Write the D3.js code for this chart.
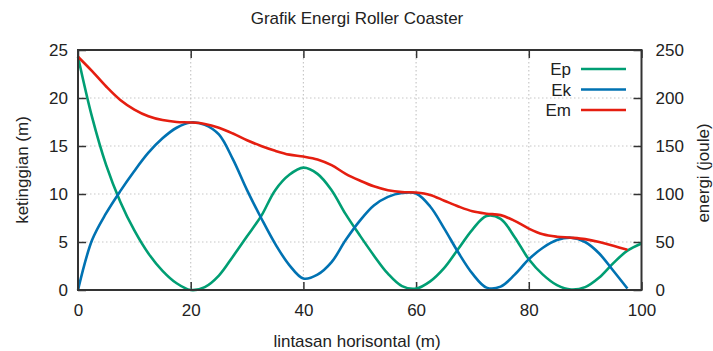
<!DOCTYPE html>
<html>
<head>
<meta charset="utf-8">
<script src="https://cdn.jsdelivr.net/npm/d3@7/dist/d3.min.js"></script>
<style>
    body { margin: 0; background: #fff; }
    svg text { font-family: "Liberation Sans", Arial, sans-serif; fill: #222; }
</style>
</head>
<body>
<svg id="chart" width="713" height="351"></svg>
<script>
// data, energies in joule, position in m
var lintasan = [0, 2.5, 5, 7.5, 10, 12.5, 15, 17.5, 20, 22.5, 25, 27.5, 30, 32.5, 35, 37.5, 40,
    42.5, 45, 47.5, 50, 52.5, 55, 57.5, 60, 62.5, 65, 67.5, 70, 72.5, 75, 77.5, 80, 82.5, 85,
    87.5, 90, 92.5, 95, 97.5, 100];

var ep = [243, 180, 130, 92, 62, 38, 20, 7, 0, 3, 15, 35, 56, 77, 104, 120, 127.5,
    121, 104, 79, 57, 36, 17, 4, 1.5, 9, 23, 43, 63, 77, 74, 55, 32, 16, 5,
    0.5, 3, 13, 28, 41, 48.5];

var ek = [0, 52, 80, 103, 124, 143, 158, 169, 174.5, 172, 162, 136, 104, 75, 48, 26, 12,
    16, 29, 52, 72, 88, 97, 101, 100.5, 87, 64, 39, 17, 2.5, 3.5, 16, 32, 44, 52,
    54.5, 50, 38, 20, 1.5, null];

var em = [243, 228, 212, 198, 188, 181, 177, 175, 174.5, 173, 169, 163, 156, 150, 145, 141, 139,
    136, 130, 121, 114, 108, 104, 102, 101.5, 99, 93, 87, 82, 79.5, 78, 72, 64, 58, 55.5,
    54.5, 53, 50, 46, 42, null];

var series = [
    {name: "Ep", values: ep, color: "#009e73"},
    {name: "Ek", values: ek, color: "#0072b2"},
    {name: "Em", values: em, color: "#e51e10"}
];

var xTicks = [0, 20, 40, 60, 80, 100];
var yTicks = [0, 5, 10, 15, 20, 25];
var y2Ticks = [0, 50, 100, 150, 200, 250];

var svg = d3.select("#chart");
var fontSize = 17;

var plot = {left: 78, right: 641.5, top: 50, bottom: 290};

var xScale = d3.scaleLinear().domain([0, 100]).range([plot.left, plot.right]);
var yScale = d3.scaleLinear().domain([0, 25]).range([plot.bottom, plot.top]);
var y2Scale = d3.scaleLinear().domain([0, 250]).range([plot.bottom, plot.top]);

// grid
var grid = svg.append("g").attr("class", "grid")
    .attr("stroke", "#c8c8c8")
    .attr("stroke-width", 1.2)
    .attr("stroke-dasharray", "1.5,2.5");
grid.selectAll("line.gx")
    .data(xTicks.slice(1, -1))
    .enter().append("line")
    .attr("x1", function (d) { return xScale(d); })
    .attr("x2", function (d) { return xScale(d); })
    .attr("y1", plot.top)
    .attr("y2", plot.bottom);
grid.selectAll("line.gy")
    .data(yTicks.slice(1, -1))
    .enter().append("line")
    .attr("x1", plot.left)
    .attr("x2", plot.right)
    .attr("y1", function (d) { return yScale(d); })
    .attr("y2", function (d) { return yScale(d); });

// axes, ticks pointing inward like gnuplot
function styleAxis(g) {
    g.select(".domain").remove();
    g.selectAll(".tick line").attr("stroke", "#333").attr("stroke-width", 1.5);
    g.selectAll(".tick text").style("font-size", fontSize + "px").attr("fill", "#222");
}

svg.append("g")
    .attr("transform", "translate(0," + plot.bottom + ")")
    .call(d3.axisBottom(xScale).tickValues(xTicks).tickSizeInner(-8).tickPadding(14))
    .call(styleAxis);
svg.append("g")
    .attr("transform", "translate(0," + plot.top + ")")
    .call(d3.axisTop(xScale).tickValues(xTicks).tickSizeInner(-8).tickFormat(""))
    .call(styleAxis);
svg.append("g")
    .attr("transform", "translate(" + plot.left + ",0)")
    .call(d3.axisLeft(yScale).tickValues(yTicks).tickSizeInner(-8).tickPadding(10))
    .call(styleAxis);
svg.append("g")
    .attr("transform", "translate(" + plot.right + ",0)")
    .call(d3.axisRight(y2Scale).tickValues(y2Ticks).tickSizeInner(-8).tickPadding(14))
    .call(styleAxis);

// curves
var line = d3.line()
    .defined(function (d) { return d[1] != null; })
    .x(function (d) { return xScale(d[0]); })
    .y(function (d) { return y2Scale(d[1]); })
    .curve(d3.curveCatmullRom);

svg.append("g").attr("class", "curves")
    .selectAll("path")
    .data(series)
    .enter().append("path")
    .attr("fill", "none")
    .attr("stroke", function (d) { return d.color; })
    .attr("stroke-width", 2.6)
    .attr("stroke-linejoin", "round")
    .attr("d", function (s) {
        return line(lintasan.map(function (x, i) { return [x, s.values[i]]; }));
    });

// border
svg.append("rect")
    .attr("x", plot.left)
    .attr("y", plot.top)
    .attr("width", plot.right - plot.left)
    .attr("height", plot.bottom - plot.top)
    .attr("fill", "none")
    .attr("stroke", "#333")
    .attr("stroke-width", 2);

// legend
var legend = svg.append("g").attr("class", "legend");
series.forEach(function (s, i) {
    var ly = 69 + i * 20.5;
    legend.append("text")
        .attr("x", 571)
        .attr("y", ly + 6)
        .attr("text-anchor", "end")
        .style("font-size", fontSize + "px")
        .text(s.name);
    legend.append("line")
        .attr("x1", 581).attr("x2", 626)
        .attr("y1", ly).attr("y2", ly)
        .attr("stroke", s.color)
        .attr("stroke-width", 2.6);
});

// titles
svg.append("text")
    .attr("x", 357).attr("y", 24)
    .attr("text-anchor", "middle")
    .style("font-size", fontSize + "px")
    .text("Grafik Energi Roller Coaster");

svg.append("text")
    .attr("x", 357).attr("y", 347)
    .attr("text-anchor", "middle")
    .style("font-size", fontSize + "px")
    .text("lintasan horisontal (m)");

svg.append("text")
    .attr("transform", "translate(28,170) rotate(-90)")
    .attr("text-anchor", "middle")
    .style("font-size", fontSize + "px")
    .text("ketinggian (m)");

svg.append("text")
    .attr("transform", "translate(709,173) rotate(-90)")
    .attr("text-anchor", "middle")
    .style("font-size", fontSize + "px")
    .text("energi (joule)");
</script>
</body>
</html>
